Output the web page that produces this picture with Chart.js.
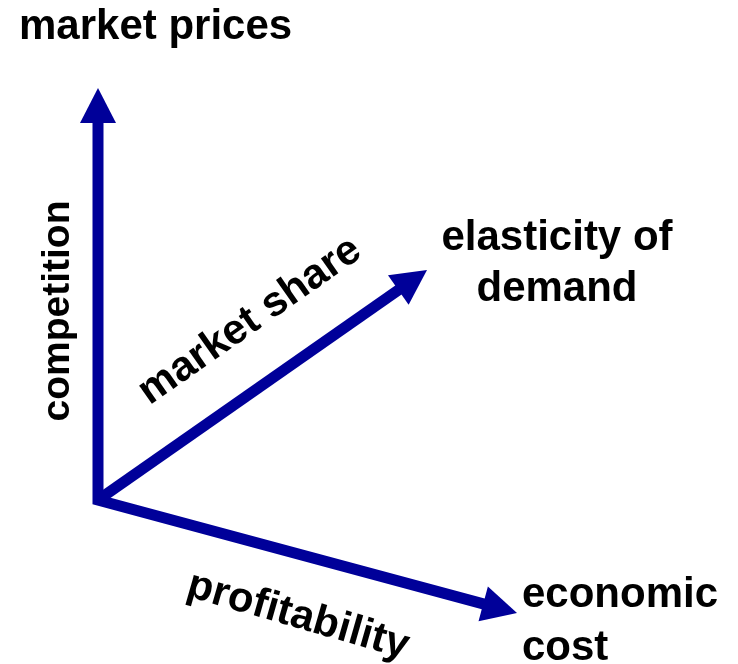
<!DOCTYPE html>
<html>
<head>
<meta charset="utf-8">
<script src="https://cdn.jsdelivr.net/npm/chart.js@4/dist/chart.umd.min.js"></script>
<style>
  html, body { margin: 0; padding: 0; background: #fff; }
  #wrap { width: 738px; height: 664px; }
</style>
</head>
<body>
<div id="wrap"><canvas id="diagramChart" width="738" height="664"></canvas></div>
<script>
"use strict";
// arrows all start at the origin
var arrowNames = ["market prices", "elasticity of demand", "economic cost"];
var arrowEndX = [0, 329, 419];
var arrowEndY = [412, 230, -113];
var originX = 0;
var originY = 0;
var axisLabels = ["competition", "market share", "profitability"];

var blue = "#000099";
var headLen = 35;
var headHalf = 18;
var shaftWidth = 11;
var labelFont = "bold 42px 'Liberation Sans', Arial, sans-serif";
var sideFont = "bold 39px 'Liberation Sans', Arial, sans-serif";

function headBase(from, to) {
  var dx = to.x - from.x, dy = to.y - from.y;
  var len = Math.sqrt(dx * dx + dy * dy);
  return { x: to.x - dx / len * (headLen - 1), y: to.y - dy / len * (headLen - 1), ux: dx / len, uy: dy / len };
}

function drawHead(ctx, from, to) {
  var b = headBase(from, to);
  var bx = to.x - b.ux * headLen, by = to.y - b.uy * headLen;
  ctx.beginPath();
  ctx.moveTo(to.x, to.y);
  ctx.lineTo(bx - b.uy * headHalf, by + b.ux * headHalf);
  ctx.lineTo(bx + b.uy * headHalf, by - b.ux * headHalf);
  ctx.closePath();
  ctx.fill();
}

function text(ctx, str, x, y, rot, align, base) {
  ctx.save();
  ctx.translate(x, y);
  ctx.rotate(rot * Math.PI / 180);
  ctx.textAlign = align;
  ctx.textBaseline = base;
  ctx.fillText(str, 0, 0);
  ctx.restore();
}

var arrowPlugin = {
  id: "arrows",
  afterDatasetsDraw: function (chart) {
    var ctx = chart.ctx;
    var pts = chart.data.datasets.map(function (ds, i) {
      var meta = chart.getDatasetMeta(i);
      return { from: meta.data[0], to: meta.data[1] };
    });
    ctx.save();
    ctx.strokeStyle = blue;
    ctx.fillStyle = blue;
    ctx.lineWidth = shaftWidth;
    ctx.lineCap = "butt";
    ctx.lineJoin = "miter";
    // vertical and lower arrow share one corner at the origin
    var b0 = headBase(pts[0].from, pts[0].to);
    var b2 = headBase(pts[2].from, pts[2].to);
    ctx.beginPath();
    ctx.moveTo(b0.x, b0.y);
    ctx.lineTo(pts[0].from.x, pts[0].from.y);
    ctx.lineTo(b2.x, b2.y);
    ctx.stroke();
    var b1 = headBase(pts[1].from, pts[1].to);
    ctx.beginPath();
    ctx.moveTo(pts[1].from.x, pts[1].from.y);
    ctx.lineTo(b1.x, b1.y);
    ctx.stroke();
    pts.forEach(function (p) { drawHead(ctx, p.from, p.to); });

    var xs = chart.scales.x, ys = chart.scales.y;
    function px(v) { return xs.getPixelForValue(v); }
    function py(v) { return ys.getPixelForValue(v); }
    ctx.fillStyle = "#000";
    ctx.font = labelFont;
    text(ctx, arrowNames[0], px(-79), py(461), 0, "left", "alphabetic");
    text(ctx, "elasticity of", px(459), py(250), 0, "center", "alphabetic");
    text(ctx, "demand", px(459), py(199), 0, "center", "alphabetic");
    text(ctx, "economic", px(424), py(-107), 0, "left", "alphabetic");
    text(ctx, "cost", px(424), py(-160), 0, "left", "alphabetic");
    text(ctx, axisLabels[1], px(152), py(179), -35, "center", "middle");
    text(ctx, axisLabels[2], px(200), py(-116), 16, "center", "middle");
    ctx.font = sideFont;
    text(ctx, axisLabels[0], px(-29), py(189), -90, "center", "alphabetic");
    ctx.restore();
  }
};

var datasets = arrowNames.map(function (name, i) {
  return {
    label: name,
    data: [{ x: originX, y: originY }, { x: arrowEndX[i], y: arrowEndY[i] }],
    showLine: false,
    pointRadius: 0,
    pointHoverRadius: 0
  };
});

var diagramChart = new Chart(document.getElementById("diagramChart").getContext("2d"), {
  type: "scatter",
  data: { datasets: datasets },
  options: {
    responsive: false,
    animation: false,
    layout: { padding: 0 },
    plugins: { legend: { display: false }, tooltip: { enabled: false } },
    scales: {
      x: { type: "linear", min: -98, max: 640, display: false },
      y: { type: "linear", min: -164, max: 500, display: false }
    }
  },
  plugins: [arrowPlugin]
});
</script>
</body>
</html>
